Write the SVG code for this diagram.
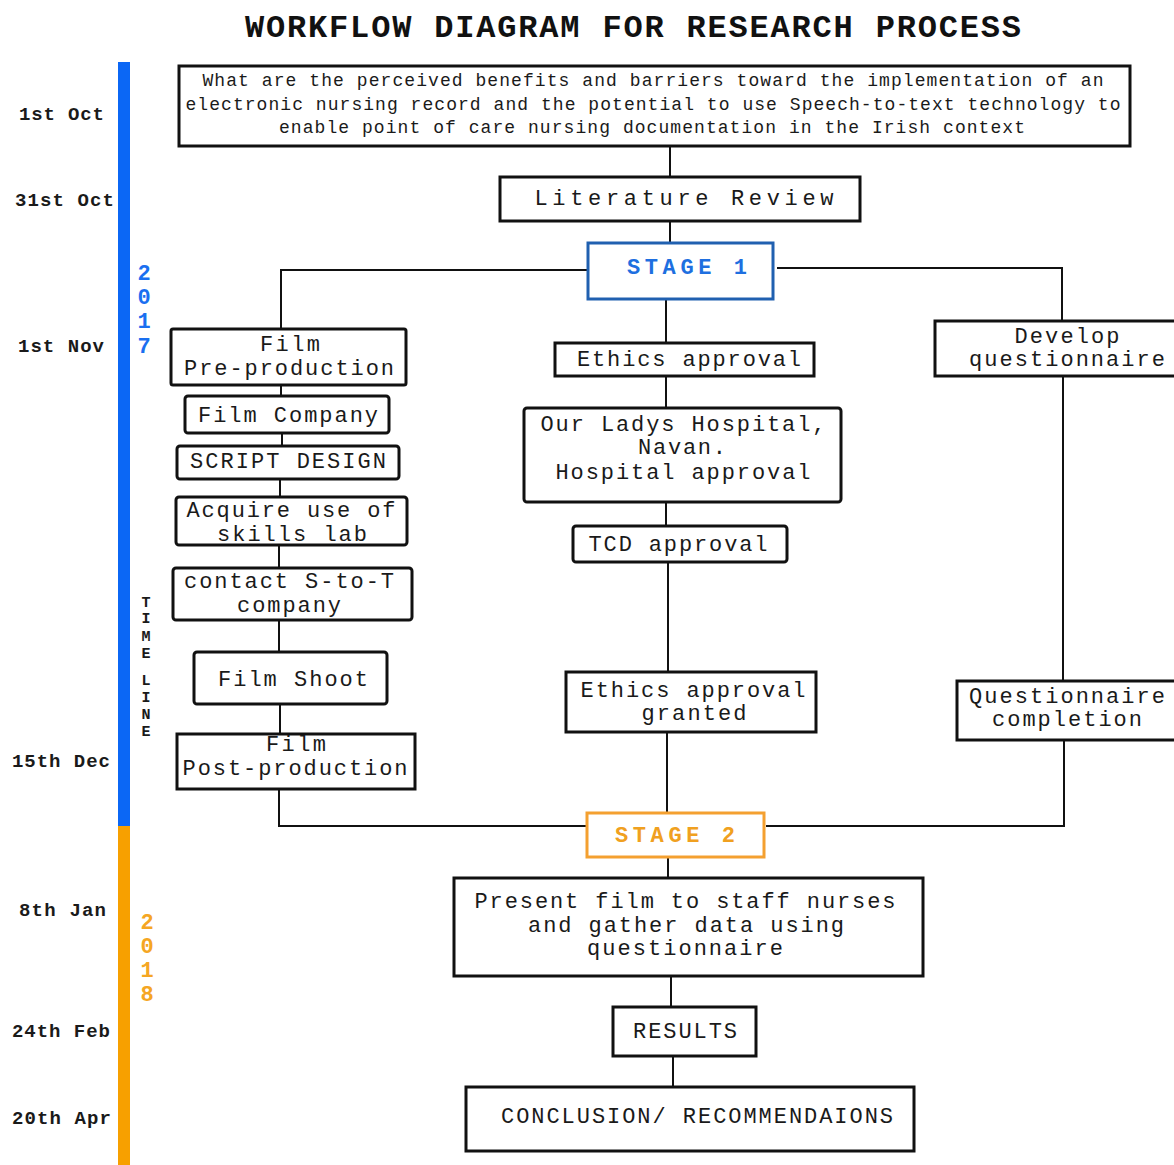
<svg xmlns="http://www.w3.org/2000/svg" width="1174" height="1165" viewBox="0 0 1174 1165">
<style>
  .box { fill: #ffffff; stroke: #111111; stroke-width: 3; }
  .t { font-family: "Liberation Mono", "Courier New", monospace; fill: #1a1a1a; font-size: 22px; }
  .q { font-family: "Liberation Mono", "Courier New", monospace; fill: #1a1a1a; font-size: 18px; }
  .d { font-family: "Liberation Mono", "Courier New", monospace; fill: #1a1a1a; font-size: 19px; font-weight: bold; }
  .yr { font-family: "Liberation Mono", "Courier New", monospace; font-size: 22px; font-weight: bold; text-anchor: middle; }
  .tl { font-family: "Liberation Mono", "Courier New", monospace; font-size: 15px; font-weight: bold; fill: #1a1a1a; text-anchor: middle; }
  .c { fill: none; stroke: #111111; stroke-width: 2; }
  .m { text-anchor: middle; }
</style>
<rect width="1174" height="1165" fill="#ffffff"/>

<text x="633" y="37" class="m" font-family="Liberation Mono, Courier New, monospace" font-size="32" font-weight="bold" fill="#111" textLength="776" lengthAdjust="spacing">WORKFLOW DIAGRAM FOR RESEARCH PROCESS</text>

<g id="timeline">
  <rect x="118" y="62" width="12" height="764" fill="#0b67f5"/>
  <rect x="118" y="826" width="12" height="339" fill="#f7a000"/>
  <text class="d" x="19" y="120" textLength="85" lengthAdjust="spacing">1st Oct</text>
  <text class="d" x="15" y="206" textLength="99" lengthAdjust="spacing">31st Oct</text>
  <text class="d" x="18" y="352" textLength="86" lengthAdjust="spacing">1st Nov</text>
  <text class="d" x="12" y="767" textLength="98" lengthAdjust="spacing">15th Dec</text>
  <text class="d" x="19" y="916" textLength="87" lengthAdjust="spacing">8th Jan</text>
  <text class="d" x="12" y="1037" textLength="98" lengthAdjust="spacing">24th Feb</text>
  <text class="d" x="12" y="1124" textLength="99" lengthAdjust="spacing">20th Apr</text>
  <text class="yr" fill="#1a6ff0" x="144" y="280">2</text>
  <text class="yr" fill="#1a6ff0" x="144" y="304">0</text>
  <text class="yr" fill="#1a6ff0" x="144" y="328">1</text>
  <text class="yr" fill="#1a6ff0" x="144" y="353">7</text>
  <text class="yr" fill="#f5a623" x="147" y="929">2</text>
  <text class="yr" fill="#f5a623" x="147" y="953">0</text>
  <text class="yr" fill="#f5a623" x="147" y="977">1</text>
  <text class="yr" fill="#f5a623" x="147" y="1001">8</text>
  <text class="tl" x="146" y="607">T</text>
  <text class="tl" x="146" y="623">I</text>
  <text class="tl" x="146" y="641">M</text>
  <text class="tl" x="146" y="658">E</text>
  <text class="tl" x="146" y="685">L</text>
  <text class="tl" x="146" y="702">I</text>
  <text class="tl" x="146" y="719">N</text>
  <text class="tl" x="146" y="736">E</text>
</g>

<g id="connectors">
  <path class="c" d="M670 147 V177"/>
  <path class="c" d="M670 222 V243"/>
  <path class="c" d="M588 270 H281 V329"/>
  <path class="c" d="M777 268 H1062 V321"/>
  <path class="c" d="M666 300 V343"/>
  <path class="c" d="M281 386 V396"/>
  <path class="c" d="M282 433 V446"/>
  <path class="c" d="M280 479 V497"/>
  <path class="c" d="M279 545 V568"/>
  <path class="c" d="M279 620 V652"/>
  <path class="c" d="M280 704 V734"/>
  <path class="c" d="M279 789 V826 H587"/>
  <path class="c" d="M666 376 V408"/>
  <path class="c" d="M666 502 V526"/>
  <path class="c" d="M668 562 V672"/>
  <path class="c" d="M667 732 V813"/>
  <path class="c" d="M1063 376 V681"/>
  <path class="c" d="M1064 740 V826 H766"/>
  <path class="c" d="M668 857 V878"/>
  <path class="c" d="M671 976 V1007"/>
  <path class="c" d="M673 1056 V1087"/>
</g>

<g id="research-question">
  <rect class="box" x="179" y="66" width="951" height="80"/>
  <text class="q m" x="653" y="86" textLength="901" lengthAdjust="spacing">What are the perceived benefits and barriers toward the implementation of an</text>
  <text class="q m" x="653" y="110" textLength="935" lengthAdjust="spacing">electronic nursing record and the potential to use Speech-to-text technology to</text>
  <text class="q m" x="652" y="133" textLength="746" lengthAdjust="spacing">enable point of care nursing documentation in the Irish context</text>
</g>

<g id="literature-review">
  <rect class="box" x="500" y="177" width="360" height="44"/>
  <text class="t m" x="684" y="205" font-size="25" textLength="299" lengthAdjust="spacing">Literature Review</text>
</g>

<g id="stage-1">
  <rect x="588" y="243" width="185" height="56" fill="#fff" stroke="#2060b0" stroke-width="3"/>
  <text x="687" y="274" class="m" font-family="Liberation Mono, Courier New, monospace" font-size="22" font-weight="bold" fill="#1e6fe0" textLength="120" lengthAdjust="spacing">STAGE 1</text>
</g>

<g id="film-pre-production">
  <rect class="box" x="171" y="329" width="235" height="56" rx="2"/>
  <text class="t m" x="290" y="351" textLength="60" lengthAdjust="spacing">Film</text>
  <text class="t m" x="289" y="375" textLength="210" lengthAdjust="spacing">Pre-production</text>
</g>

<g id="film-company">
  <rect class="box" x="185" y="396" width="204" height="37" rx="3"/>
  <text class="t m" x="288" y="422" textLength="180" lengthAdjust="spacing">Film Company</text>
</g>

<g id="script-design">
  <rect class="box" x="177" y="446" width="222" height="33" rx="3"/>
  <text class="t m" x="288" y="468" textLength="196" lengthAdjust="spacing">SCRIPT DESIGN</text>
</g>

<g id="skills-lab">
  <rect class="box" x="176" y="497" width="231" height="48" rx="3"/>
  <text class="t m" x="291" y="517" textLength="209" lengthAdjust="spacing">Acquire use of</text>
  <text class="t m" x="292" y="541" textLength="150" lengthAdjust="spacing">skills lab</text>
</g>

<g id="contact-company">
  <rect class="box" x="173" y="568" width="239" height="52" rx="3"/>
  <text class="t m" x="289" y="588" textLength="210" lengthAdjust="spacing">contact S-to-T</text>
  <text class="t m" x="289" y="612" textLength="104" lengthAdjust="spacing">company</text>
</g>

<g id="film-shoot">
  <rect class="box" x="194" y="652" width="193" height="52" rx="3"/>
  <text class="t m" x="293" y="686" textLength="150" lengthAdjust="spacing">Film Shoot</text>
</g>

<g id="film-post-production">
  <rect class="box" x="177" y="734" width="238" height="55"/>
  <text class="t m" x="296" y="751" textLength="60" lengthAdjust="spacing">Film</text>
  <text class="t m" x="295" y="775" textLength="225" lengthAdjust="spacing">Post-production</text>
</g>

<g id="ethics-approval">
  <rect class="box" x="555" y="343" width="259" height="33"/>
  <text class="t m" x="689" y="366" textLength="224" lengthAdjust="spacing">Ethics approval</text>
</g>

<g id="hospital-approval">
  <rect class="box" x="524" y="408" width="317" height="94" rx="3"/>
  <text class="t m" x="683" y="431" textLength="285" lengthAdjust="spacing">Our Ladys Hospital,</text>
  <text class="t m" x="682" y="454" textLength="88" lengthAdjust="spacing">Navan.</text>
  <text class="t m" x="683" y="479" textLength="255" lengthAdjust="spacing">Hospital approval</text>
</g>

<g id="tcd-approval">
  <rect class="box" x="573" y="526" width="214" height="36" rx="3"/>
  <text class="t m" x="678" y="551" textLength="179" lengthAdjust="spacing">TCD approval</text>
</g>

<g id="ethics-granted">
  <rect class="box" x="566" y="672" width="250" height="60"/>
  <text class="t m" x="693" y="697" textLength="225" lengthAdjust="spacing">Ethics approval</text>
  <text class="t m" x="694" y="720" textLength="105" lengthAdjust="spacing">granted</text>
</g>

<g id="develop-questionnaire">
  <rect class="box" x="935" y="321" width="250" height="55"/>
  <text class="t m" x="1067" y="343" textLength="105" lengthAdjust="spacing">Develop</text>
  <text class="t m" x="1067" y="366" textLength="196" lengthAdjust="spacing">questionnaire</text>
</g>

<g id="questionnaire-completion">
  <rect class="box" x="957" y="681" width="230" height="59"/>
  <text class="t m" x="1067" y="703" textLength="196" lengthAdjust="spacing">Questionnaire</text>
  <text class="t m" x="1067" y="726" textLength="150" lengthAdjust="spacing">completion</text>
</g>

<g id="stage-2">
  <rect x="587" y="813" width="177" height="44" fill="#fff" stroke="#f4a030" stroke-width="3"/>
  <text x="675" y="842" class="m" font-family="Liberation Mono, Courier New, monospace" font-size="22" font-weight="bold" fill="#f0a020" textLength="120" lengthAdjust="spacing">STAGE 2</text>
</g>

<g id="present-film">
  <rect class="box" x="454" y="878" width="469" height="98"/>
  <text class="t m" x="685" y="908" textLength="421" lengthAdjust="spacing">Present film to staff nurses</text>
  <text class="t m" x="686" y="932" textLength="316" lengthAdjust="spacing">and gather data using</text>
  <text class="t m" x="685" y="955" textLength="196" lengthAdjust="spacing">questionnaire</text>
</g>

<g id="results">
  <rect class="box" x="613" y="1007" width="143" height="49"/>
  <text class="t m" x="685" y="1038" textLength="104" lengthAdjust="spacing">RESULTS</text>
</g>

<g id="conclusion">
  <rect class="box" x="466" y="1087" width="448" height="64"/>
  <text class="t m" x="697" y="1123" textLength="392" lengthAdjust="spacing">CONCLUSION/ RECOMMENDAIONS</text>
</g>
</svg>
